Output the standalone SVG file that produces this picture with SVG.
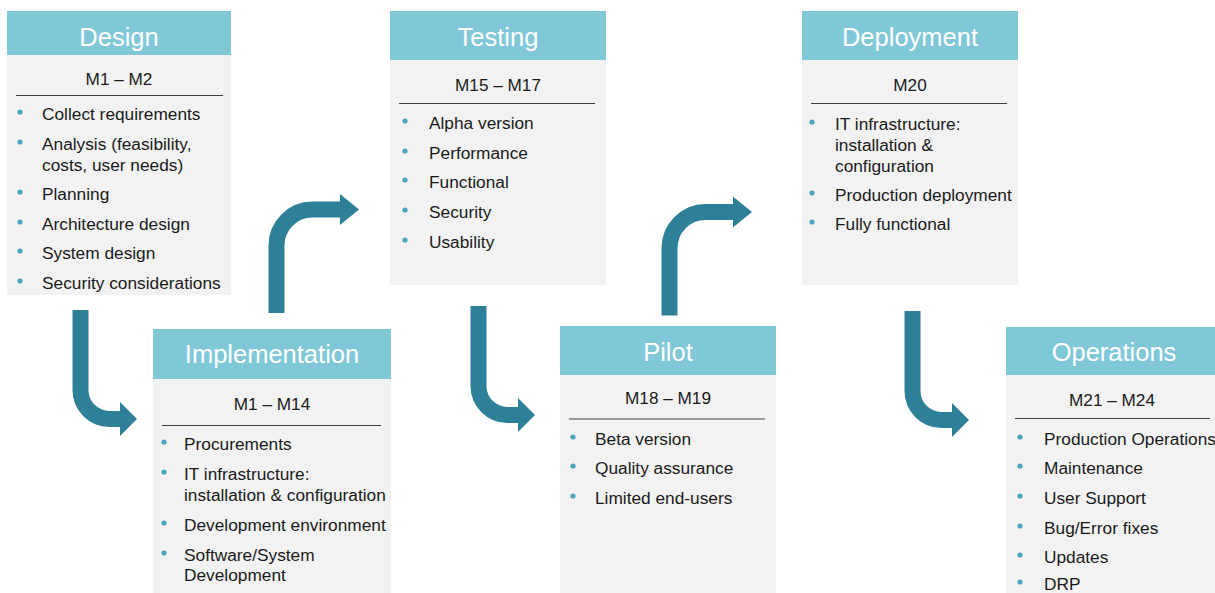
<svg xmlns="http://www.w3.org/2000/svg" width="1215" height="593" viewBox="0 0 1215 593">
<style>
.hdr{fill:#80c8d8}
.body{fill:#f2f2f2}
.title{font-family:"Liberation Sans",Arial,sans-serif;font-size:25.5px;fill:#ffffff;text-anchor:middle}
.per{font-family:"Liberation Sans",Arial,sans-serif;font-size:17.2px;fill:#1a1a1a;text-anchor:middle}
.item{font-family:"Liberation Sans",Arial,sans-serif;font-size:17.3px;fill:#1a1a1a}
.rule{stroke:#404040;stroke-width:1}
.dot{fill:#4aa5bd}
.shaft{fill:none;stroke:#2e8098;stroke-width:16}
.head{fill:#2e8098}
</style>
<defs>
<g id="arrowDown">
<path class="shaft" d="M80.5,310 V390 A29,29 0 0 0 109.5,419 H121"/>
<polygon class="head" points="120,402 137,419 120,436"/>
</g>
<g id="arrowUp">
<path class="shaft" d="M276.5,313 V245.5 A36,36 0 0 1 312.5,209.5 H341"/>
<polygon class="head" points="340,194 359,209.5 340,225"/>
</g>
</defs>
<rect width="1215" height="593" fill="#ffffff"/>

<g id="connectors">
<use href="#arrowDown"/>
<use href="#arrowUp"/>
<use href="#arrowDown" transform="translate(398,-4)"/>
<use href="#arrowUp" transform="translate(393,2.5)"/>
<use href="#arrowDown" transform="translate(832,1)"/>
</g>

<g id="design">
<rect class="body" x="7" y="55" width="224" height="240"/>
<rect class="hdr" x="7" y="11" width="224" height="44"/>
<text class="title" x="119" y="46">Design</text>
<text class="per" x="119" y="85">M1 – M2</text>
<line class="rule" x1="16" y1="95.5" x2="223" y2="95.5"/>
<circle class="dot" cx="20" cy="112" r="2.6"/>
<text class="item" x="42" y="120">Collect requirements</text>
<circle class="dot" cx="20" cy="142" r="2.6"/>
<text class="item" x="42" y="150">Analysis (feasibility,</text>
<text class="item" x="42" y="171">costs, user needs)</text>
<circle class="dot" cx="20" cy="192" r="2.6"/>
<text class="item" x="42" y="200">Planning</text>
<circle class="dot" cx="20" cy="222" r="2.6"/>
<text class="item" x="42" y="230">Architecture design</text>
<circle class="dot" cx="20" cy="251" r="2.6"/>
<text class="item" x="42" y="259">System design</text>
<circle class="dot" cx="20" cy="281" r="2.6"/>
<text class="item" x="42" y="289">Security considerations</text>
</g>

<g id="implementation">
<rect class="body" x="153" y="379" width="238" height="214"/>
<rect class="hdr" x="153" y="329" width="238" height="50"/>
<text class="title" x="272" y="363">Implementation</text>
<text class="per" x="272" y="410">M1 – M14</text>
<line class="rule" x1="162" y1="425.5" x2="381" y2="425.5"/>
<circle class="dot" cx="164" cy="442" r="2.6"/>
<text class="item" x="184" y="450">Procurements</text>
<circle class="dot" cx="164" cy="472" r="2.6"/>
<text class="item" x="184" y="480">IT infrastructure:</text>
<text class="item" x="184" y="501">installation &amp; configuration</text>
<circle class="dot" cx="164" cy="523" r="2.6"/>
<text class="item" x="184" y="531">Development environment</text>
<circle class="dot" cx="164" cy="553" r="2.6"/>
<text class="item" x="184" y="561">Software/System</text>
<text class="item" x="184" y="581">Development</text>
</g>

<g id="testing">
<rect class="body" x="390" y="60" width="216" height="225"/>
<rect class="hdr" x="390" y="11" width="216" height="49"/>
<text class="title" x="498" y="46">Testing</text>
<text class="per" x="498" y="91">M15 – M17</text>
<line class="rule" x1="399" y1="103.5" x2="595" y2="103.5"/>
<circle class="dot" cx="405" cy="121" r="2.6"/>
<text class="item" x="429" y="129">Alpha version</text>
<circle class="dot" cx="405" cy="151" r="2.6"/>
<text class="item" x="429" y="159">Performance</text>
<circle class="dot" cx="405" cy="180" r="2.6"/>
<text class="item" x="429" y="188">Functional</text>
<circle class="dot" cx="405" cy="210" r="2.6"/>
<text class="item" x="429" y="218">Security</text>
<circle class="dot" cx="405" cy="240" r="2.6"/>
<text class="item" x="429" y="248">Usability</text>
</g>

<g id="pilot">
<rect class="body" x="560" y="375" width="216" height="218"/>
<rect class="hdr" x="560" y="326" width="216" height="49"/>
<text class="title" x="668" y="361">Pilot</text>
<text class="per" x="668" y="404">M18 – M19</text>
<line class="rule" x1="569" y1="419" x2="765" y2="419"/>
<circle class="dot" cx="573" cy="437" r="2.6"/>
<text class="item" x="595" y="445">Beta version</text>
<circle class="dot" cx="573" cy="466" r="2.6"/>
<text class="item" x="595" y="474">Quality assurance</text>
<circle class="dot" cx="573" cy="496" r="2.6"/>
<text class="item" x="595" y="504">Limited end-users</text>
</g>

<g id="deployment">
<rect class="body" x="802" y="60" width="216" height="225"/>
<rect class="hdr" x="802" y="11" width="216" height="49"/>
<text class="title" x="910" y="46">Deployment</text>
<text class="per" x="910" y="91">M20</text>
<line class="rule" x1="811" y1="103.5" x2="1007" y2="103.5"/>
<circle class="dot" cx="812" cy="122" r="2.6"/>
<text class="item" x="835" y="130">IT infrastructure:</text>
<text class="item" x="835" y="151">installation &amp;</text>
<text class="item" x="835" y="172">configuration</text>
<circle class="dot" cx="812" cy="193" r="2.6"/>
<text class="item" x="835" y="201">Production deployment</text>
<circle class="dot" cx="812" cy="222" r="2.6"/>
<text class="item" x="835" y="230">Fully functional</text>
</g>

<g id="operations">
<rect class="body" x="1006" y="375" width="216" height="218"/>
<rect class="hdr" x="1006" y="327" width="216" height="48"/>
<text class="title" x="1114" y="361">Operations</text>
<text class="per" x="1112" y="406">M21 – M24</text>
<line class="rule" x1="1015" y1="418.5" x2="1210" y2="418.5"/>
<circle class="dot" cx="1020" cy="437" r="2.6"/>
<text class="item" x="1044" y="445">Production Operations</text>
<circle class="dot" cx="1020" cy="466" r="2.6"/>
<text class="item" x="1044" y="474">Maintenance</text>
<circle class="dot" cx="1020" cy="496" r="2.6"/>
<text class="item" x="1044" y="504">User Support</text>
<circle class="dot" cx="1020" cy="526" r="2.6"/>
<text class="item" x="1044" y="534">Bug/Error fixes</text>
<circle class="dot" cx="1020" cy="555" r="2.6"/>
<text class="item" x="1044" y="563">Updates</text>
<circle class="dot" cx="1020" cy="582" r="2.6"/>
<text class="item" x="1044" y="590">DRP</text>
</g>
</svg>
